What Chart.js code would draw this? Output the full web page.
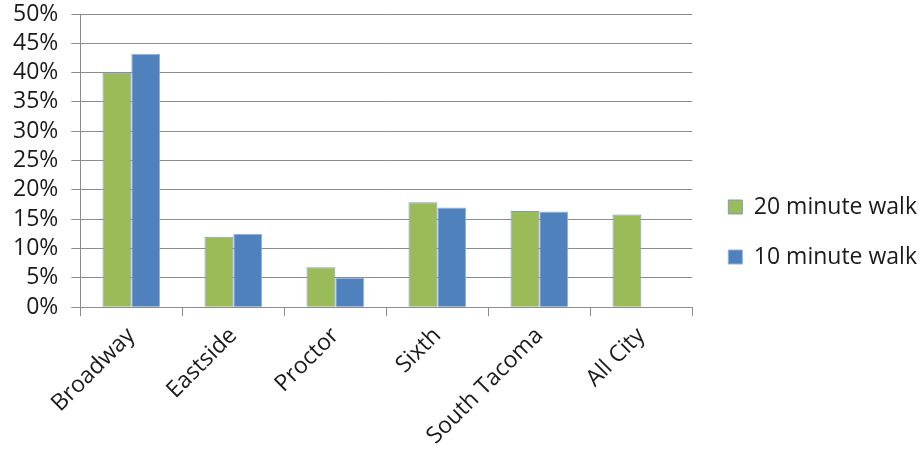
<!DOCTYPE html>
<html>
<head>
<meta charset="utf-8">
<script src="https://cdn.jsdelivr.net/npm/chart.js@4/dist/chart.umd.min.js"></script>
<style>
  html, body { margin: 0; padding: 0; background: #fff; }
  #wrap { width: 924px; height: 458px; }
</style>
</head>
<body>
<div id="wrap"><canvas id="walkChart"></canvas></div>
<script>
// Share of residents within walking distance, by neighbourhood
const areas = ['Broadway', 'Eastside', 'Proctor', 'Sixth', 'South Tacoma', 'All City'];
const walk20 = [40, 12, 6.8, 17.9, 16.4, 15.8];
const walk10 = [43.2, 12.5, 5, 17, 16.3, null];
const seriesNames = ['20 minute walk', '10 minute walk'];
const yTicks = [0, 5, 10, 15, 20, 25, 30, 35, 40, 45, 50];

const fontFamily = "'Open Sans', sans-serif";
const fontSize = 23;
const gridGray = '#8c8c8c';

// nudge the legend a little further from the plot
const legendShift = {
    id: 'legendShift',
    afterLayout(chart) {
        chart.legend.left += 9;
        chart.legend.right += 9;
        chart.legend.top -= 3;
        chart.legend.bottom -= 3;
    }
};

const chart = new Chart(document.getElementById('walkChart'), {
    type: 'bar',
    data: {
        labels: areas,
        datasets: [{
            label: seriesNames[0],
            data: walk20,
            backgroundColor: '#9bbb59',
            borderColor: '#7c9cc9',
            borderWidth: 1,
            categoryPercentage: 0.565,
            barPercentage: 1.0
        }, {
            label: seriesNames[1],
            data: walk10,
            backgroundColor: '#4f81bd',
            borderColor: '#8fb0dc',
            borderWidth: 1,
            categoryPercentage: 0.565,
            barPercentage: 1.0
        }]
    },
    options: {
        responsive: true,
        maintainAspectRatio: false,
        animation: false,
        layout: {
            padding: { top: 14, right: 6, bottom: 2, left: 0 }
        },
        plugins: {
            tooltip: { enabled: false },
            legend: {
                position: 'right',
                labels: {
                    boxWidth: 14,
                    boxHeight: 14,
                    padding: 27,
                    color: '#1a1a1a',
                    font: { family: fontFamily, size: fontSize }
                }
            }
        },
        scales: {
            x: {
                grid: {
                    drawOnChartArea: false,
                    drawTicks: true,
                    tickLength: 9,
                    color: gridGray
                },
                border: { color: gridGray },
                ticks: {
                    maxRotation: 45,
                    minRotation: 45,
                    padding: 6,
                    color: '#1a1a1a',
                    font: { family: fontFamily, size: fontSize }
                }
            },
            y: {
                min: 0,
                max: 50,
                afterBuildTicks: axis => {
                    axis.ticks = yTicks.map(v => ({ value: v }));
                },
                afterFit: axis => {
                    // let the top label overhang the plot edge
                    axis.paddingTop = 0;
                },
                grid: {
                    color: gridGray,
                    tickLength: 9
                },
                border: { color: gridGray },
                ticks: {
                    autoSkip: false,
                    padding: 13,
                    color: '#1a1a1a',
                    font: { family: fontFamily, size: fontSize },
                    callback: value => value + '%'
                }
            }
        }
    },
    plugins: [legendShift]
});
</script>
</body>
</html>
